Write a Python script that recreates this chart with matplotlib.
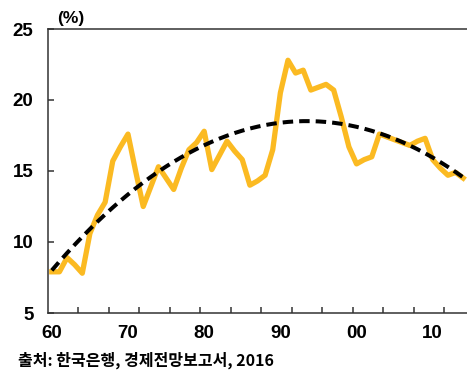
import numpy as np
import matplotlib
matplotlib.use("Agg")
import matplotlib.pyplot as plt

years = list(range(1960, 2015))
values = [7.9, 7.9, 8.9, 8.4, 7.8, 10.6, 11.9, 12.8, 15.7, 16.7,
          17.6, 15.0, 12.5, 13.9, 15.3, 14.5, 13.7, 15.2, 16.5, 17.0,
          17.8, 15.1, 16.1, 17.1, 16.4, 15.8, 14.0, 14.3, 14.7, 16.5,
          20.5, 22.8, 21.9, 22.1, 20.7, 20.9, 21.1, 20.7, 18.8, 16.7,
          15.5, 15.8, 16.0, 17.6, 17.4, 17.2, 17.0, 16.8, 17.1, 17.3,
          15.8, 15.2, 14.7, 14.9, 14.5]
xtick_labels = ["60", "70", "80", "90", "00", "10"]
ytick_values = [5, 10, 15, 20, 25]
unit_label = "(%)"
source_text = "출처: 한국은행, 경제전망보고서, 2016"

yrs = np.array(years, dtype=float)
vals = np.array(values)
coef = np.polyfit(yrs - 1960, vals, 2)
trend = np.polyval(coef, yrs - 1960)

fig = plt.figure(figsize=(4.67, 3.70), dpi=100)
ax = fig.add_axes([48/467, 1-313/370, 1-48/467, (313-29)/370])

ax.plot(yrs, vals, color="#FBBA22", lw=3.8, solid_joinstyle="round", zorder=2)
ax.plot(yrs, trend, color="black", lw=2.9, dashes=(2.6, 1.5), zorder=3)

ax.set_xlim(1959.5, 2014.5)
ax.set_ylim(5, 25)

ax.set_xticks([1959.5 + 4*k for k in range(1, 14)])
ax.set_xticklabels([])
ax.set_xticks([1960 + 10*i for i in range(len(xtick_labels))], minor=True)
ax.set_xticklabels(xtick_labels, minor=True)
ax.tick_params(axis="x", which="major", direction="in", length=4.5, width=1.1, color="#333333")
ax.tick_params(axis="x", which="minor", length=0, pad=8.5)
ax.set_yticks(ytick_values)
ax.set_yticklabels([str(v) for v in ytick_values])
ax.tick_params(axis="y", direction="in", length=4, width=1.1, color="#333333", pad=10.5)

for lab in ax.get_xticklabels(minor=True) + ax.get_yticklabels():
    lab.set_fontfamily("Liberation Sans")
    lab.set_fontweight("bold")
    lab.set_fontsize(13.5)

for side in ["left", "top", "bottom"]:
    ax.spines[side].set_color("#333333")
    ax.spines[side].set_linewidth(1.1)
ax.spines["right"].set_visible(False)

fig.text(57/467, 1-18/370, unit_label, fontfamily="Liberation Sans", fontweight="bold",
         fontsize=12.5, ha="left", va="center")
fig.text(18/467, 1-360/370, source_text, fontfamily=["Noto Sans CJK KR", "DejaVu Sans"],
         fontweight="bold", fontsize=11.5, ha="left", va="center")

fig.savefig("out.png", dpi=100)
